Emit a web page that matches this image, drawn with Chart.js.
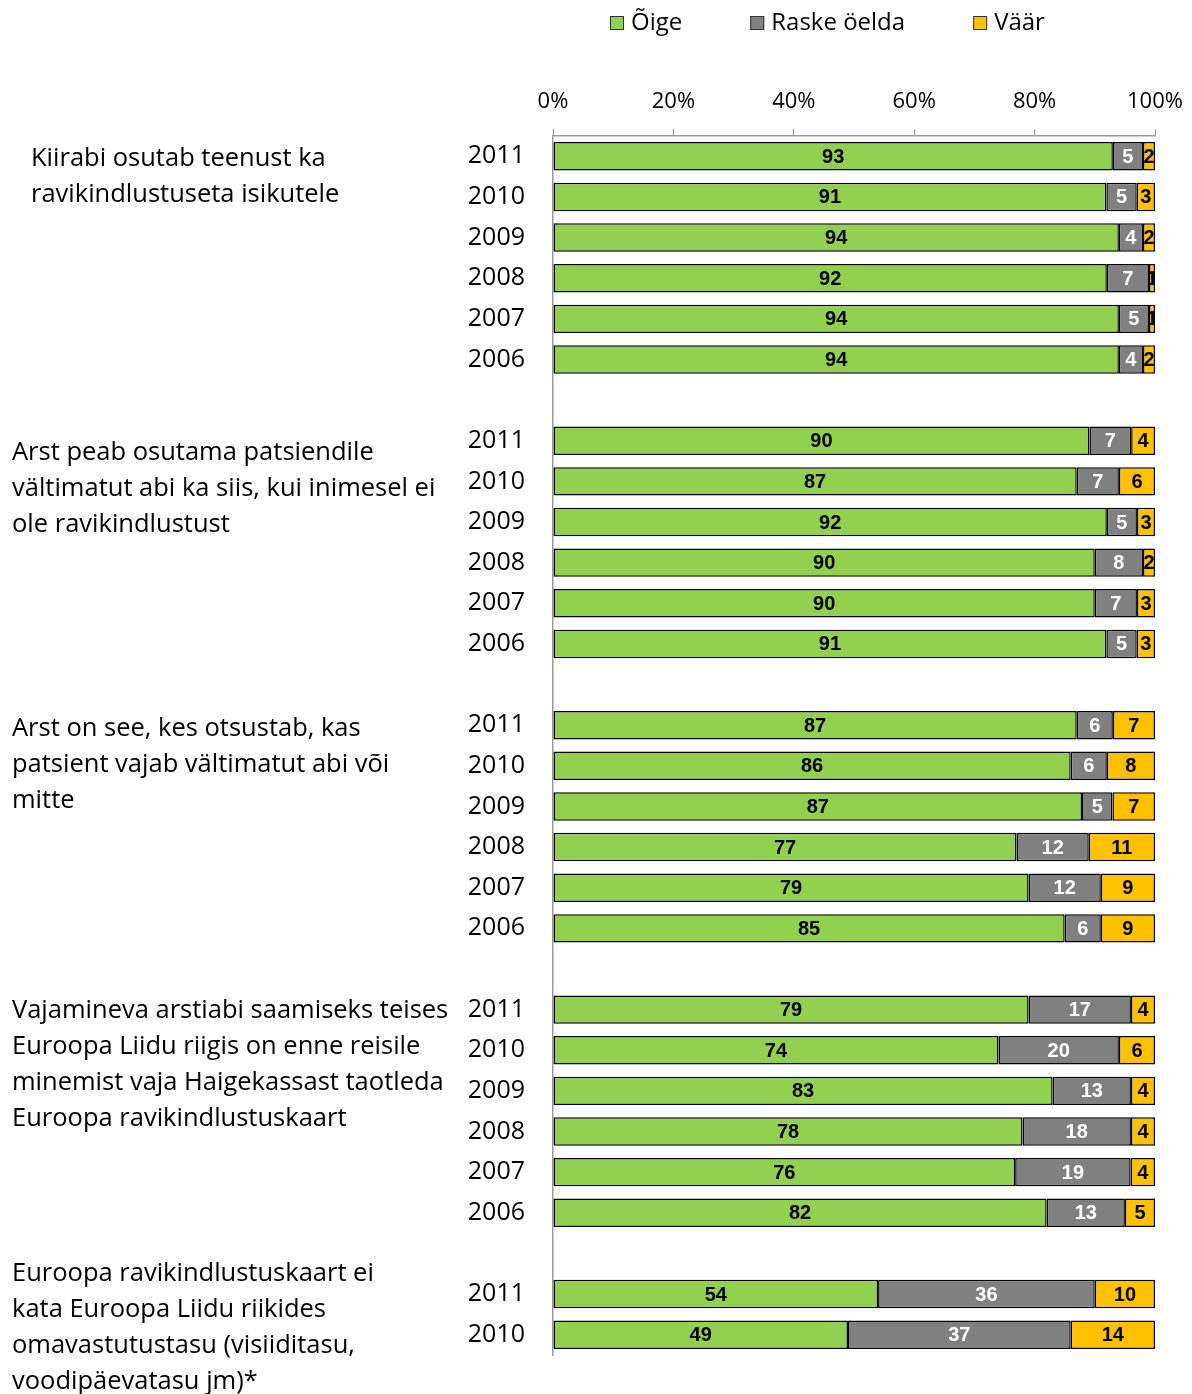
<!DOCTYPE html>
<html>
<head>
<meta charset="utf-8">
<script src="https://cdn.jsdelivr.net/npm/chart.js@4.4.1/dist/chart.umd.min.js"></script>
<style>
  html, body { margin: 0; padding: 0; background: #fff; overflow: hidden; }
  #wrap { width: 1192px; height: 1394px; position: relative; }
</style>
</head>
<body>
<div id="wrap"><canvas id="chart"></canvas></div>
<script>
// rows top to bottom, '' = empty spacer row between the statement groups
const categories = [
  '2011', '2010', '2009', '2008', '2007', '2006', '',
  '2011', '2010', '2009', '2008', '2007', '2006', '',
  '2011', '2010', '2009', '2008', '2007', '2006', '',
  '2011', '2010', '2009', '2008', '2007', '2006', '',
  '2011', '2010'
];
const oige  = [93, 91, 94, 92, 94, 94, null, 90, 87, 92, 90, 90, 91, null, 87, 86, 87, 77, 79, 85, null, 79, 74, 83, 78, 76, 82, null, 54, 49];
const raske = [5, 5, 4, 7, 5, 4, null, 7, 7, 5, 8, 7, 5, null, 6, 6, 5, 12, 12, 6, null, 17, 20, 13, 18, 19, 13, null, 36, 37];
const vaar  = [2, 3, 2, 1, 1, 2, null, 4, 6, 3, 2, 3, 3, null, 7, 8, 7, 11, 9, 9, null, 4, 6, 4, 4, 4, 5, null, 10, 14];
const xTicks = ['0%', '20%', '40%', '60%', '80%', '100%'];

const groupTitles = [
  ['Kiirabi osutab teenust ka', 'ravikindlustuseta isikutele'],
  ['Arst peab osutama patsiendile', 'vältimatut abi ka siis, kui inimesel ei', 'ole ravikindlustust'],
  ['Arst on see, kes otsustab, kas', 'patsient vajab vältimatut abi või', 'mitte'],
  ['Vajamineva arstiabi saamiseks teises', 'Euroopa Liidu riigis on enne reisile', 'minemist vaja Haigekassast taotleda', 'Euroopa ravikindlustuskaart'],
  ['Euroopa ravikindlustuskaart ei', 'kata Euroopa Liidu riikides', 'omavastutustasu (visiiditasu,', 'voodipäevatasu jm)*']
];
const groupFirstRow = [0, 7, 14, 21, 28];

// layout of the group titles (left edge, offset of first line from first row centre)
const titleLayout = [
  { x: 31, dy: 2 },
  { x: 12, dy: 12 },
  { x: 12, dy: 4 },
  { x: 12, dy: 1 },
  { x: 12, dy: -20 }
];

const TEXT_FONT = '"Open Sans", Lato, sans-serif';
const NUM_FONT = '"Liberation Sans Narrow", "Arial Narrow", "Liberation Sans", sans-serif';

// each bar fills to 100%
const totals = oige.map((v, i) => v === null ? null : v + raske[i] + vaar[i]);
const share = arr => arr.map((v, i) => v === null ? null : v / totals[i] * 100);

const groupTitlePlugin = {
  id: 'groupTitles',
  afterDraw(chart) {
    const ctx = chart.ctx;
    const y = chart.scales.y;
    ctx.save();
    ctx.font = '25.5px ' + TEXT_FONT;
    ctx.fillStyle = '#000';
    ctx.textAlign = 'left';
    ctx.textBaseline = 'middle';
    groupTitles.forEach((lines, g) => {
      const y0 = y.getPixelForValue(groupFirstRow[g]) + titleLayout[g].dy;
      lines.forEach((line, k) => ctx.fillText(line, titleLayout[g].x, y0 + k * 36));
    });
    ctx.restore();
  }
};

const valueLabelPlugin = {
  id: 'valueLabels',
  afterDatasetsDraw(chart) {
    const ctx = chart.ctx;
    ctx.save();
    ctx.font = 'bold 20px ' + NUM_FONT;
    ctx.textAlign = 'center';
    ctx.textBaseline = 'middle';
    chart.data.datasets.forEach((ds, di) => {
      const meta = chart.getDatasetMeta(di);
      meta.data.forEach((bar, i) => {
        const raw = ds.rawValues[i];
        if (raw === null || raw === undefined) return;
        const p = bar.getProps(['x', 'y', 'base', 'height'], true);
        const left = Math.min(p.x, p.base), right = Math.max(p.x, p.base);
        ctx.save();
        ctx.beginPath();
        ctx.rect(left, p.y - p.height / 2, right - left, p.height);
        ctx.clip();
        ctx.fillStyle = ds.labelColor;
        ctx.fillText(String(raw), (left + right) / 2, p.y + 1);
        ctx.restore();
      });
    });
    ctx.restore();
  }
};

const legendPlugin = {
  id: 'customLegend',
  afterDraw(chart) {
    const ctx = chart.ctx;
    ctx.save();
    ctx.font = '24px ' + TEXT_FONT;
    ctx.textBaseline = 'middle';
    ctx.textAlign = 'left';
    let x = 610;
    const y = 23;
    chart.data.datasets.forEach(ds => {
      ctx.fillStyle = ds.backgroundColor;
      ctx.fillRect(x, y - 7, 14, 14);
      ctx.strokeStyle = '#333';
      ctx.lineWidth = 1;
      ctx.strokeRect(x + 0.5, y - 6.5, 13, 13);
      ctx.fillStyle = '#000';
      ctx.fillText(ds.label, x + 21, y);
      x += 21 + ctx.measureText(ds.label).width + 68;
    });
    ctx.restore();
  }
};

new Chart(document.getElementById('chart'), {
  type: 'bar',
  data: {
    labels: categories,
    datasets: [
      { label: 'Õige', data: share(oige), rawValues: oige, backgroundColor: '#92D050', labelColor: '#000' },
      { label: 'Raske öelda', data: share(raske), rawValues: raske, backgroundColor: '#808080', labelColor: '#fff' },
      { label: 'Väär', data: share(vaar), rawValues: vaar, backgroundColor: '#FFC000', labelColor: '#000' }
    ].map(ds => Object.assign(ds, {
      borderColor: '#000',
      borderWidth: 1.5,
      borderSkipped: false,
      barPercentage: 0.7,
      categoryPercentage: 1
    }))
  },
  options: {
    indexAxis: 'y',
    responsive: true,
    maintainAspectRatio: false,
    animation: false,
    layout: { padding: { top: 0, right: 37, bottom: 39, left: 0 } },
    scales: {
      x: {
        position: 'top',
        stacked: true,
        min: 0,
        max: 100,
        afterFit(scale) {
          scale.height = 136;
          scale.paddingLeft = 0;
          scale.paddingRight = 0;
        },
        ticks: {
          stepSize: 20,
          padding: 14,
          color: '#000',
          font: { family: TEXT_FONT, size: 22 },
          callback: (v, i) => xTicks[i]
        },
        grid: { drawOnChartArea: false, tickLength: 7, color: '#999' },
        border: { color: '#999', width: 1.5 }
      },
      y: {
        stacked: true,
        afterFit(scale) {
          scale.width = 553;
          scale.paddingTop = 0;
          scale.paddingBottom = 0;
        },
        ticks: {
          padding: 28,
          color: '#000',
          autoSkip: false,
          font: { family: TEXT_FONT, size: 25 }
        },
        grid: { display: false, drawTicks: false },
        border: { color: '#999', width: 1.5 }
      }
    },
    plugins: {
      legend: { display: false },
      tooltip: { enabled: false }
    }
  },
  plugins: [groupTitlePlugin, valueLabelPlugin, legendPlugin]
});
</script>
</body>
</html>
